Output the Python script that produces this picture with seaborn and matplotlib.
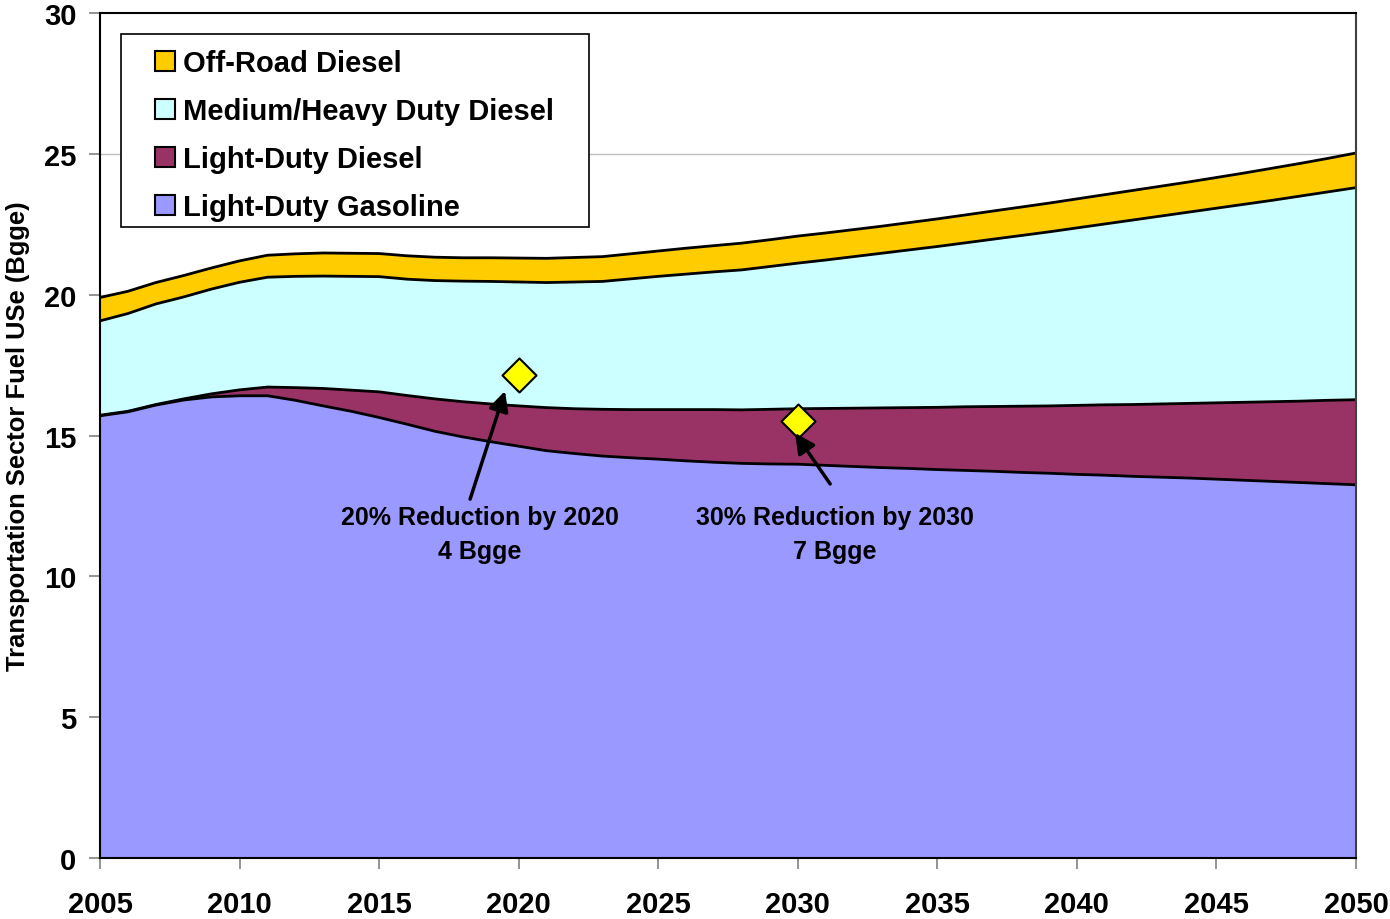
import numpy as np
import pandas as pd
import matplotlib
matplotlib.use("Agg")
import matplotlib.pyplot as plt
import seaborn as sns
from matplotlib.patches import Patch, Rectangle

years = list(range(2005, 2051))

light_duty_gasoline = [15.70, 15.84, 16.08, 16.26, 16.37, 16.41, 16.41, 16.25, 16.05, 15.86,
                       15.64, 15.40, 15.15, 14.95, 14.78, 14.62, 14.46, 14.36, 14.27, 14.21,
                       14.16, 14.10, 14.05, 14.01, 13.99, 13.98, 13.94, 13.90, 13.86, 13.83,
                       13.79, 13.76, 13.73, 13.69, 13.66, 13.62, 13.59, 13.55, 13.52, 13.49,
                       13.45, 13.41, 13.37, 13.33, 13.29, 13.25]
light_duty_diesel = [0.02, 0.02, 0.02, 0.04, 0.11, 0.21, 0.31, 0.45, 0.62, 0.75,
                     0.91, 1.02, 1.15, 1.25, 1.34, 1.43, 1.53, 1.59, 1.66, 1.71,
                     1.76, 1.82, 1.87, 1.90, 1.94, 1.97, 2.02, 2.07, 2.12, 2.16,
                     2.21, 2.26, 2.30, 2.35, 2.39, 2.45, 2.50, 2.55, 2.60, 2.65,
                     2.71, 2.77, 2.83, 2.89, 2.96, 3.02]
medium_heavy_diesel = [3.35, 3.47, 3.57, 3.62, 3.72, 3.82, 3.90, 3.95, 3.99, 4.04,
                       4.09, 4.13, 4.20, 4.28, 4.35, 4.40, 4.44, 4.50, 4.54, 4.64,
                       4.73, 4.81, 4.89, 4.97, 5.07, 5.17, 5.27, 5.38, 5.49, 5.60,
                       5.71, 5.82, 5.94, 6.06, 6.18, 6.30, 6.42, 6.55, 6.67, 6.79,
                       6.91, 7.03, 7.15, 7.28, 7.40, 7.53]
off_road_diesel = [0.83, 0.79, 0.76, 0.76, 0.75, 0.76, 0.78, 0.80, 0.82, 0.82,
                   0.82, 0.83, 0.83, 0.83, 0.84, 0.85, 0.86, 0.87, 0.88, 0.89,
                   0.90, 0.92, 0.93, 0.95, 0.95, 0.96, 0.96, 0.96, 0.96, 0.97,
                   0.98, 0.99, 1.00, 1.01, 1.02, 1.03, 1.04, 1.05, 1.06, 1.07,
                   1.09, 1.11, 1.14, 1.16, 1.19, 1.23]

series_names = ["Light-Duty Gasoline", "Light-Duty Diesel",
                "Medium/Heavy Duty Diesel", "Off-Road Diesel"]
series_colors = ["#9999FF", "#993366", "#CCFFFF", "#FFCC00"]

target_years = [2020, 2030]
target_values = [17.15, 15.50]
target_labels = ["20% Reduction by 2020\n4 Bgge", "30% Reduction by 2030\n7 Bgge"]

y_ticks = [0, 5, 10, 15, 20, 25, 30]
x_ticks = list(range(2005, 2051, 5))

sns.set_theme(style="white")
plt.rcParams["font.family"] = ["Liberation Sans", "DejaVu Sans"]
for k in ["text.color", "axes.labelcolor", "xtick.labelcolor", "ytick.labelcolor"]:
    plt.rcParams[k] = "black"

fig = plt.figure(figsize=(13.9, 9.2), dpi=100)
AX_L, AX_R, AX_T, AX_B = 100, 1356, 14, 859
ax = fig.add_axes([AX_L/1390, 1 - AX_B/920, (AX_R-AX_L)/1390, (AX_B-AX_T)/920])

def px_to_axes(px, py):
    return (px - AX_L) / (AX_R - AX_L), (AX_B - py) / (AX_B - AX_T)

df = pd.DataFrame({"year": years,
                   series_names[0]: light_duty_gasoline,
                   series_names[1]: light_duty_diesel,
                   series_names[2]: medium_heavy_diesel,
                   series_names[3]: off_road_diesel})
stack = np.cumsum(df[series_names].values, axis=1)

for yt in y_ticks[1:-1]:
    ax.axhline(yt, color="#BFBFBF", lw=1, zorder=0)

lower = np.zeros(len(years))
for i, name in enumerate(series_names):
    upper = stack[:, i]
    ax.fill_between(df["year"], lower, upper, color=series_colors[i], lw=0, zorder=1)
    lower = upper

for i, name in enumerate(series_names):
    sns.lineplot(x=df["year"], y=stack[:, i], color="black", lw=2, ax=ax, zorder=2)

sns.scatterplot(x=target_years, y=target_values, marker="D", s=300, color="#FFFF00",
                edgecolor="black", linewidth=1.5, ax=ax, zorder=5)

ann_specs = [((2018.26, 12.74), (2019.51, 16.58), (2018.6, 11.50)),
             ((2031.16, 13.28), (2029.90, 15.09), (2031.33, 11.50))]
for (tail, head, txt), label in zip(ann_specs, target_labels):
    ax.annotate("", xy=head, xytext=tail,
                arrowprops=dict(arrowstyle="-|>,head_length=1.0,head_width=0.5",
                                color="black", lw=2.5, shrinkA=0, shrinkB=0), zorder=6)
    ax.text(txt[0], txt[1], label, ha="center", va="center", fontsize=18,
            fontweight="bold", linespacing=1.5, zorder=6)

ax.set_xlim(2005, 2050)
ax.set_ylim(0, 30)
ax.set_xticks(x_ticks)
ax.set_yticks(y_ticks)
ax.set_xticklabels([str(x) for x in x_ticks], fontsize=21, fontweight="bold")
ax.set_yticklabels([str(y) for y in y_ticks], fontsize=21, fontweight="bold")
ax.tick_params(axis="both", direction="out", length=8, width=1.2, color="#808080",
               bottom=True, left=True)
ax.tick_params(axis="x", pad=15)
ax.tick_params(axis="y", pad=9)
ax.set_xlabel("")
ax.set_ylabel("Transportation Sector Fuel USe (Bgge)", fontsize=18.4, fontweight="bold",
              labelpad=10)

for side in ["left", "bottom", "top"]:
    ax.spines[side].set_color("black")
    ax.spines[side].set_linewidth(1.5)
ax.spines["right"].set_color("#404040")
ax.spines["right"].set_linewidth(1.5)
for s in ax.spines.values():
    s.set_zorder(10)

# legend frame
fx0, fy0 = px_to_axes(121, 228)
fx1, fy1 = px_to_axes(589, 35)
ax.add_patch(Rectangle((fx0, fy0), fx1 - fx0, fy1 - fy0, transform=ax.transAxes,
                       facecolor="white", edgecolor="black", lw=1.2, zorder=19))

handles = [Patch(facecolor=series_colors[i], edgecolor="black", lw=1.5, label=series_names[i])
           for i in [3, 2, 1, 0]]
lx, ly = px_to_axes(155, 50)
leg = ax.legend(handles=handles, loc="upper left", bbox_to_anchor=(lx, ly),
                borderaxespad=0, frameon=False,
                prop={"weight": "bold", "size": 21}, handlelength=0.7, handleheight=0.7,
                handletextpad=0.25, labelspacing=0.69, borderpad=0)
leg.set_zorder(20)

fig.savefig("out.png", dpi=100)
